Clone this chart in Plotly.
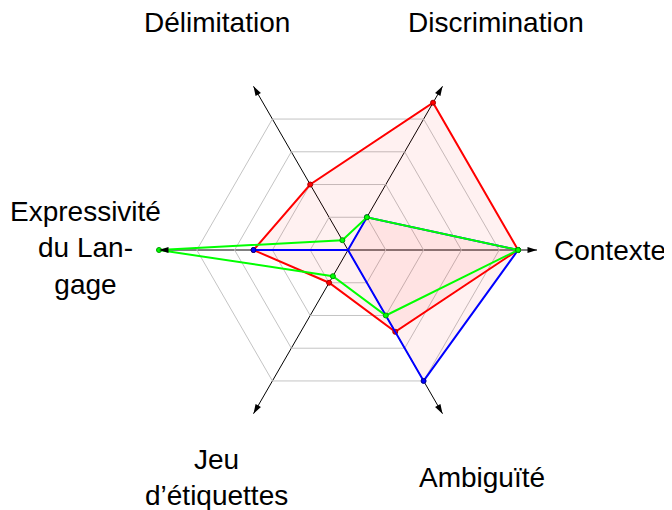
import math
import plotly.graph_objects as go

categories = ["Contexte", "Discrimination", "Délimitation",
              "Expressivité du Langage", "Jeu d'étiquettes", "Ambiguïté"]
axis_labels = ["Contexte", "Discrimination", "Délimitation",
               "Expressivité<br>du Lan-<br>gage", "Jeu<br>d’étiquettes", "Ambiguïté"]
red_values = [4.5, 4.5, 2.0, 2.5, 1.0, 2.5]
blue_values = [4.5, 1.0, 0.0, 2.5, 0.0, 4.0]
green_values = [4.5, 1.0, 0.3, 5.0, 0.8, 2.0]
grid_levels = [1, 2, 3, 4]
axis_max = 5

FONT = "Liberation Sans, Arial, sans-serif"

# figure geometry (pixels); page body adds an 8px offset
W, H = 664, 502
CX, CY = 340, 242
R_PX = 189
LABEL_R = 263
label_dx = [-1, 16, 0, 0, 0, 2]
label_dy = [0, 0, 0, -2, 0, 0]

fig = go.Figure()

def closed(v):
    return list(v) + [v[0]]

series = [
    (red_values, "#ff0000", "#a00000", True),
    (blue_values, "#0000ff", "#00008a", True),
    (green_values, "#00ff00", "#009900", False),
]
for vals, col, dark, filled in series:
    fig.add_trace(go.Scatterpolar(
        r=closed(vals), theta=closed(categories),
        mode="lines+markers", fill="toself" if filled else "none",
        fillcolor="rgba(255,0,0,0.055)",
        line=dict(color=col, width=2),
        marker=dict(size=5, color=col, line=dict(color=dark, width=1)),
        showlegend=False, hoverinfo="skip"))

# arrowheads at the end of each axis
arrow_angles = [90, 30, -30, -90, -150, 150]
fig.add_trace(go.Scatterpolar(
    r=[axis_max] * len(categories), theta=categories, mode="markers",
    marker=dict(symbol="arrow", size=10, color="black", angle=arrow_angles,
                line=dict(width=0)),
    showlegend=False, hoverinfo="skip", cliponaxis=False))

# axis labels as annotations placed along each axis direction
for i, lab in enumerate(axis_labels):
    ang = math.radians(60 * i)
    px = CX + LABEL_R * math.cos(ang) + label_dx[i]
    py = CY - LABEL_R * math.sin(ang) + label_dy[i]
    fig.add_annotation(x=px / W, y=1 - py / H, xref="paper", yref="paper",
                       text=lab, showarrow=False, xanchor="center",
                       yanchor="middle", align="center",
                       font=dict(family=FONT, size=28, color="black"))

fig.update_layout(
    width=W, height=H,
    margin=dict(l=0, r=0, t=0, b=0),
    paper_bgcolor="white",
    polar=dict(
        domain=dict(x=[(CX - R_PX) / W, (CX + R_PX) / W],
                    y=[1 - (CY + R_PX) / H, 1 - (CY - R_PX) / H]),
        bgcolor="rgba(0,0,0,0)",
        gridshape="linear",
        radialaxis=dict(range=[0, axis_max], tickvals=grid_levels,
                        showticklabels=False, ticks="", showline=False,
                        gridcolor="#c4c4c4", gridwidth=1),
        angularaxis=dict(categoryorder="array", categoryarray=categories,
                         rotation=0, direction="counterclockwise",
                         showticklabels=False, ticks="", showline=False,
                         gridcolor="black", gridwidth=1),
    ),
)

fig.write_html("out.html")
